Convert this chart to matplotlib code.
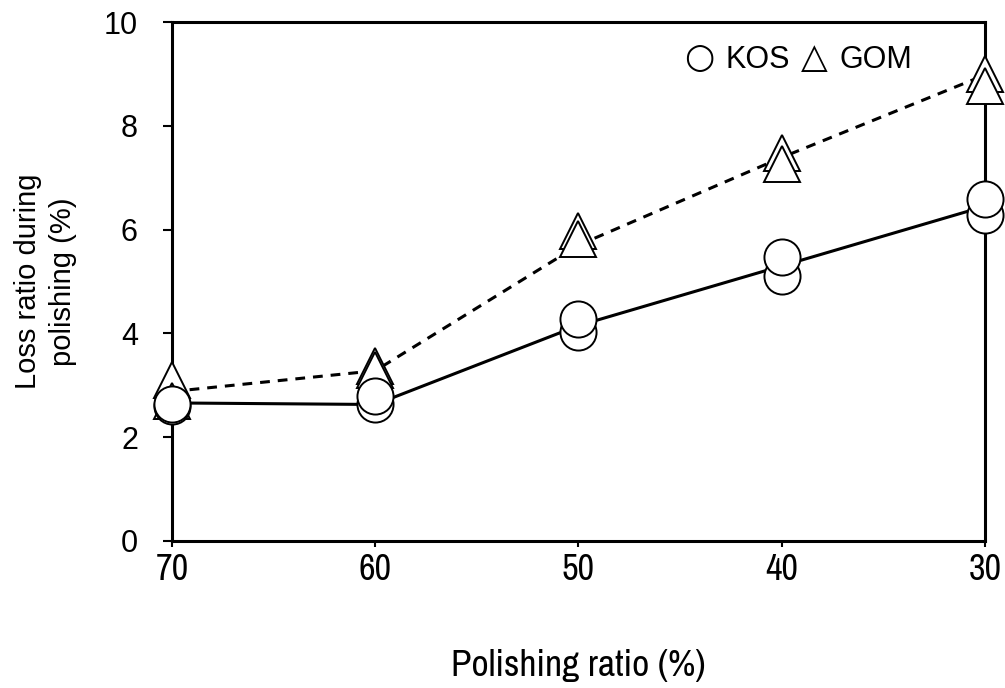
import matplotlib
matplotlib.use("Agg")
import matplotlib.pyplot as plt
from matplotlib import font_manager
from matplotlib.font_manager import FontProperties
from matplotlib.offsetbox import TextArea, HPacker, AnchoredOffsetbox

# Polishing ratio (%) and loss ratio replicates
polishing = [70, 60, 50, 40, 30]
kos_low = [2.60, 2.64, 4.03, 5.11, 6.28]
kos_high = [2.64, 2.80, 4.28, 5.47, 6.58]
gom_high = [3.10, 3.37, 5.97, 7.47, 8.99]
gom_low = [2.70, 3.30, 5.81, 7.26, 8.77]
kos_line = [2.66, 2.63, 4.15, 5.30, 6.45]
gom_line = [2.88, 3.28, 5.70, 7.39, 8.98]
y_ticks = [0, 2, 4, 6, 8, 10]

plt.rcParams["font.family"] = ["Liberation Sans", "DejaVu Sans"]


def find_narrow():
    # the x axis text in the reference is a condensed face
    fonts = font_manager.fontManager.ttflist
    regular = lambda f: f.style == "normal" and f.weight in (400, "normal", "regular")
    for f in fonts:
        if f.name == "Liberation Sans Narrow" and regular(f):
            return f.fname
    for f in fonts:
        if ("Condensed" in f.name or "Narrow" in f.name) and regular(f):
            return f.fname
    for f in fonts:
        if str(f.stretch) in ("condensed", "extra-condensed", "semi-condensed") and regular(f):
            return f.fname
    return None


nf = find_narrow()
if nf:
    narrow = lambda size: FontProperties(fname=nf, size=size)
else:
    narrow = lambda size: FontProperties(family="Liberation Sans", size=size)

fig = plt.figure(figsize=(10.05, 6.88), dpi=100)
ax = fig.add_axes([0.1711, 0.2137, 0.809, 0.7543])

ax.plot(polishing, gom_line, color="black", lw=2.2, dashes=(3.2, 2.6), zorder=2, clip_on=False)
ax.plot(polishing, kos_line, color="black", lw=2.2, zorder=2, clip_on=False)

mk = dict(mfc="white", mec="black", mew=1.4, ms=26, ls="none", clip_on=False)
ax.plot(polishing, gom_high, marker="^", zorder=3, **mk)
ax.plot(polishing, gom_low, marker="^", zorder=4, **mk)
ax.plot(polishing, kos_low, marker="o", zorder=5, **mk)
ax.plot(polishing, kos_high, marker="o", zorder=6, **mk)

ax.set_xlim(70, 30)
ax.set_ylim(0, 10)
ax.set_xticks(polishing)
ax.set_yticks(y_ticks)
ax.set_xticklabels([str(v) for v in polishing], fontproperties=narrow(26))
ax.set_yticklabels([str(v) for v in y_ticks], fontsize=22)
ax.tick_params(axis="x", direction="out", length=4.5, width=1.5, pad=4.3)
ax.tick_params(axis="y", direction="out", length=6.5, width=1.5, pad=18)
for s in ax.spines.values():
    s.set_linewidth(2.2)

ax.set_ylabel("Loss ratio during\npolishing (%)", fontsize=21, linespacing=1.3)
ax.yaxis.set_label_coords(-0.117, 0.5)
ax.set_xlabel("Polishing ratio (%)", fontproperties=narrow(27))
ax.xaxis.set_label_coords(0.5, -0.208)

# legend drawn as plain text: symbol, name, symbol, name
parts = [("\u25cb", ["DejaVu Sans"], 25), ("KOS", ["Liberation Sans"], 22),
         ("\u25b3", ["DejaVu Sans"], 25), ("GOM", ["Liberation Sans"], 22)]
areas = [TextArea(t, textprops=dict(fontfamily=fam, fontsize=sz)) for t, fam, sz in parts]
box = HPacker(children=areas, align="baseline", pad=0, sep=8)
ab = AnchoredOffsetbox(loc="center right", child=box, frameon=False,
                       bbox_to_anchor=(0.917, 0.93), bbox_transform=ax.transAxes, borderpad=0)
ax.add_artist(ab)

fig.savefig("out.png", dpi=100)
